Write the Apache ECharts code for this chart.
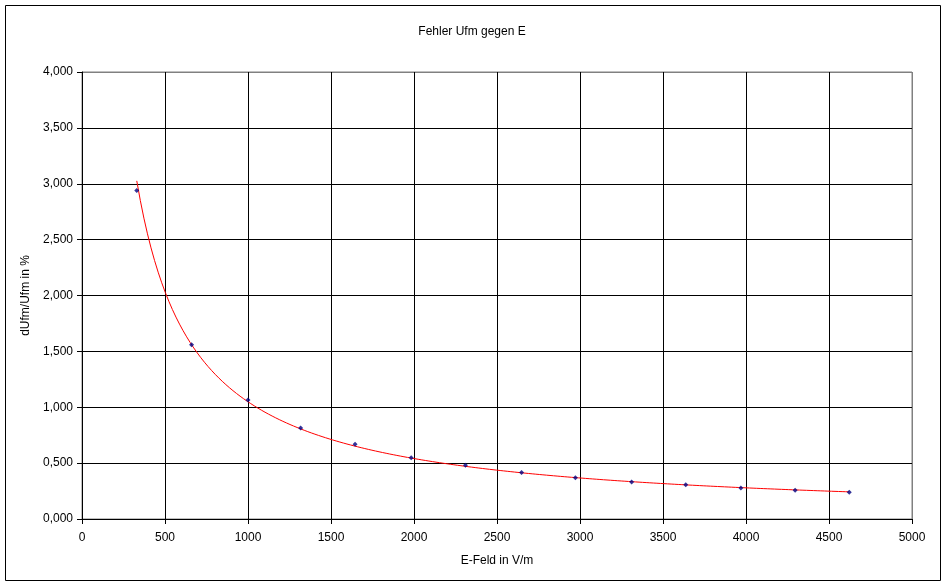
<!DOCTYPE html>
<html>
<head>
<meta charset="utf-8">
<script src="https://cdn.jsdelivr.net/npm/echarts@6/dist/echarts.min.js"></script>
<style>
html,body{margin:0;padding:0;background:#fff;}
#c{width:944px;height:587px;}
</style>
</head>
<body>
<div id="c"></div>
<script>
// Data
const eField = [330, 660, 1000, 1317, 1645, 1983, 2310, 2648, 2972, 3311, 3637, 3969, 4296, 4622];
const dUfm   = [2.94, 1.56, 1.065, 0.815, 0.668, 0.549, 0.480, 0.415, 0.370, 0.331, 0.307, 0.277, 0.257, 0.239];
const xTicks = [0, 500, 1000, 1500, 2000, 2500, 3000, 3500, 4000, 4500, 5000];
const yTicks = [0, 0.5, 1.0, 1.5, 2.0, 2.5, 3.0, 3.5, 4.0];
const titleText = 'Fehler Ufm gegen E';
const xName = 'E-Feld in V/m';
const yName = 'dUfm/Ufm in %';

// Power trendline (least squares in log-log space, as Excel does)
function powerFit(xs, ys) {
  const n = xs.length;
  let sx = 0, sy = 0, sxx = 0, sxy = 0;
  for (let i = 0; i < n; i++) {
    const lx = Math.log(xs[i]), ly = Math.log(ys[i]);
    sx += lx; sy += ly; sxx += lx * lx; sxy += lx * ly;
  }
  const b = (n * sxy - sx * sy) / (n * sxx - sx * sx);
  const a = Math.exp((sy - b * sx) / n);
  return { a, b };
}
const fit = powerFit(eField, dUfm);
const trend = [];
const x0 = eField[0], x1 = eField[eField.length - 1];
for (let i = 0; i <= 200; i++) {
  const x = x0 + (x1 - x0) * i / 200;
  trend.push([x, fit.a * Math.pow(x, fit.b)]);
}

const font = 'Liberation Sans, Arial, sans-serif';
const chart = echarts.init(document.getElementById('c'), null, { renderer: 'canvas' });
const ySplitColors = yTicks.map((t, i) => i === yTicks.length - 1 ? '#808080' : '#000000');
const xSplitColors = xTicks.map((t, i) => i === xTicks.length - 1 ? '#808080' : '#000000');

chart.setOption({
  animation: false,
  backgroundColor: '#ffffff',
  title: {
    text: titleText,
    left: 'center',
    top: 21,
    textStyle: { fontFamily: font, fontSize: 12, fontWeight: 'normal', color: '#000' }
  },
  graphic: [{
    type: 'rect',
    shape: { x: 5.5, y: 5.5, width: 935, height: 575 },
    style: { fill: 'none', stroke: '#000', lineWidth: 1 },
    silent: true
  }],
  grid: {
    left: 82, right: 32, top: 72, bottom: 68,
    show: true, borderColor: '#808080', borderWidth: 1, backgroundColor: '#fff'
  },
  xAxis: {
    type: 'value',
    min: xTicks[0], max: xTicks[xTicks.length - 1], interval: 500,
    name: xName, nameLocation: 'middle', nameGap: 36,
    nameTextStyle: { fontFamily: font, fontSize: 12, color: '#000' },
    axisLine: { show: true, lineStyle: { color: '#000', width: 1 } },
    axisTick: { show: true, length: 5, lineStyle: { color: '#000' } },
    axisLabel: { fontFamily: font, fontSize: 12, color: '#000', margin: 13, formatter: v => String(v) },
    splitLine: { show: true, lineStyle: { color: xSplitColors, width: 1 } }
  },
  yAxis: {
    type: 'value',
    min: yTicks[0], max: yTicks[yTicks.length - 1], interval: 0.5,
    name: yName, nameLocation: 'middle', nameGap: 50, nameRotate: 90,
    nameTextStyle: { fontFamily: font, fontSize: 12, color: '#000' },
    axisLine: { show: true, lineStyle: { color: '#000', width: 1 } },
    axisTick: { show: true, length: 5, lineStyle: { color: '#000' } },
    axisLabel: {
      fontFamily: font, fontSize: 12, color: '#000', margin: 9,
      formatter: v => v.toFixed(3).replace('.', ',')
    },
    splitLine: { show: true, lineStyle: { color: ySplitColors, width: 1 } }
  },
  series: [
    {
      type: 'line',
      data: trend,
      showSymbol: false,
      lineStyle: { color: '#ff0000', width: 1 },
      z: 3
    },
    {
      type: 'scatter',
      data: eField.map((x, i) => [x, dUfm[i]]),
      symbol: 'diamond',
      symbolSize: 5,
      itemStyle: { color: '#000080' },
      z: 4
    }
  ]
});
</script>
</body>
</html>
